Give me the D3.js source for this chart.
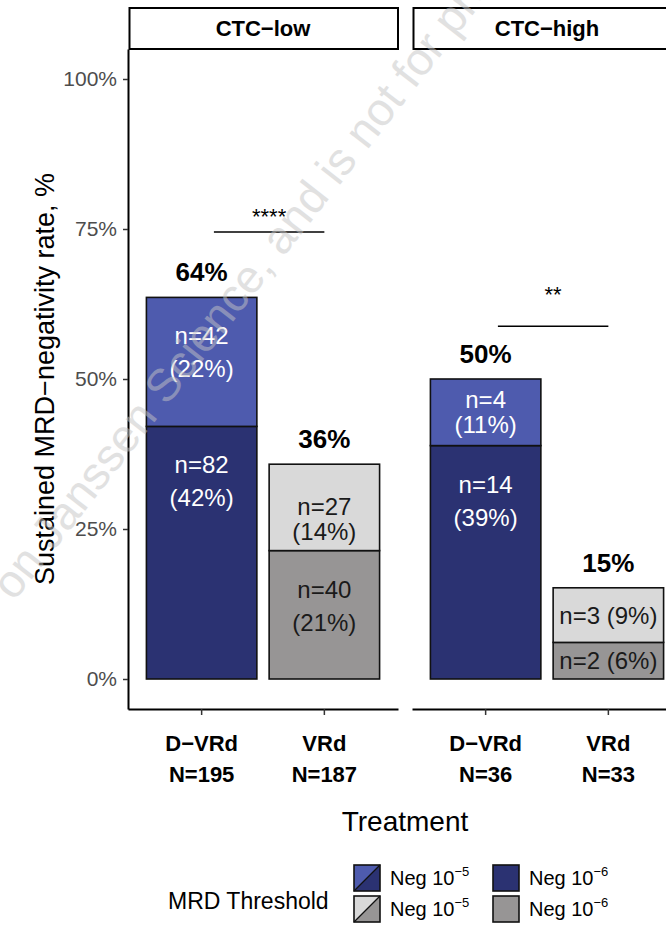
<!DOCTYPE html>
<html lang="en">
<head>
<meta charset="UTF-8">
<title>Sustained MRD-negativity by CTC</title>
<style>
    body { margin: 0; padding: 0; background: #fff; }
    svg { display: block; font-family: "Liberation Sans", Arial, sans-serif; }
    .ytick text { fill: #4d4d4d; font-size: 21px; }
    .ytick line { stroke: #333; stroke-width: 1.5px; }
    .xtick line { stroke: #333; stroke-width: 1.5px; }
    .domain { stroke: #000; stroke-width: 2px; }
</style>
</head>
<body>
<svg id="chart" width="666" height="928"></svg>

<script src="https://d3js.org/d3.v7.min.js"></script>
<script>
    // facets and treatments
    var facets = ["CTC\u2212low", "CTC\u2212high"];
    var treatments = ["D\u2212VRd", "VRd"];
    var groupN = [[195, 187], [36, 33]];

    // Neg 10^-6 segment (bottom) and Neg 10^-5 segment (top), % of N
    var deepPct = [[42.1, 21.4], [38.9, 6.1]];
    var shallowPct = [[21.5, 14.4], [11.1, 9.1]];
    var deepN = [[82, 40], [14, 2]];
    var shallowN = [[42, 27], [4, 3]];
    var deepLabel = [["42%", "21%"], ["39%", "6%"]];
    var shallowLabel = [["22%", "14%"], ["11%", "9%"]];
    var totalLabel = [["64%", "36%"], ["50%", "15%"]];

    // significance brackets (line level and label level, in %)
    var sigStars = ["****", "**"];
    var sigLevel = [74.5, 58.8];
    var sigLabelLevel = [75.8, 62.8];

    var yTicks = [0, 25, 50, 75, 100];

    var colDeep = ["#2b3272", "#979595"];
    var colShallow = ["#4e5bae", "#d9d9d9"];
    var txtCol = ["#fff", "#1a1a1a"];

    var svg = d3.select("#chart");

    var panelW = 270, panelTop = 49, panelBottom = 709;
    var panelX = [128, 412];

    var y = d3.scaleLinear().domain([-5, 105]).range([panelBottom, panelTop]);

    // y axis (left panel only)
    svg.append("g")
        .attr("class", "ytick")
        .attr("transform", "translate(" + panelX[0] + ",0)")
        .call(d3.axisLeft(y).tickValues(yTicks).tickSize(5).tickSizeOuter(0).tickPadding(6)
            .tickFormat(function (d) { return d + "%"; }));

    facets.forEach(function (facet, f) {
        var x0 = panelX[f];
        var x = d3.scaleBand().domain(treatments)
            .range([x0, x0 + panelW]).paddingInner(0.1).paddingOuter(0.15);

        // strip
        svg.append("rect")
            .attr("x", x0 + 1.5).attr("y", 8)
            .attr("width", panelW - 1.5).attr("height", panelTop - 8)
            .attr("fill", "#fff").attr("stroke", "#000").attr("stroke-width", 2);
        svg.append("text")
            .attr("x", x0 + panelW / 2).attr("y", 36)
            .attr("text-anchor", "middle")
            .attr("font-size", 22).attr("font-weight", "bold")
            .text(facet);

        // x axis
        var xa = svg.append("g")
            .attr("class", "xtick")
            .attr("transform", "translate(0," + panelBottom + ")")
            .call(d3.axisBottom(x).tickSize(6).tickSizeOuter(0).tickFormat(""));
        xa.selectAll(".tick").append("text")
            .attr("fill", "#000").attr("font-size", 22).attr("font-weight", "bold")
            .attr("text-anchor", "middle")
            .each(function (d, i) {
                var t = d3.select(this);
                t.append("tspan").attr("x", 0).attr("y", 42).text(d);
                t.append("tspan").attr("x", 0).attr("y", 73).text("N=" + groupN[f][i]);
            });

        treatments.forEach(function (tr, i) {
            var bx = x(tr), bw = x.bandwidth();
            var segs = [
                {lo: 0, hi: deepPct[f][i], fill: colDeep[i], n: deepN[f][i], p: deepLabel[f][i]},
                {lo: deepPct[f][i], hi: deepPct[f][i] + shallowPct[f][i], fill: colShallow[i], n: shallowN[f][i], p: shallowLabel[f][i]}
            ];
            segs.forEach(function (s) {
                var top = y(s.hi), bot = y(s.lo), h = bot - top;
                svg.append("rect")
                    .attr("x", bx).attr("y", top)
                    .attr("width", bw).attr("height", h)
                    .attr("fill", s.fill).attr("stroke", "#111").attr("stroke-width", 1.6);

                var cx = bx + bw / 2;
                var lbl = svg.append("text")
                    .attr("text-anchor", "middle")
                    .attr("font-size", 24)
                    .attr("fill", txtCol[i]);
                if (h < 60) {
                    lbl.attr("x", cx).attr("y", (top + bot) / 2).attr("dy", "0.35em")
                        .text("n=" + s.n + " (" + s.p + ")");
                } else {
                    var c = h < 80 ? (top + bot) / 2 : top + 55;
                    var gap = h < 100 ? 25 : 33;
                    lbl.append("tspan").attr("x", cx).attr("y", c - gap / 2).attr("dy", "0.35em").text("n=" + s.n);
                    lbl.append("tspan").attr("x", cx).attr("y", c + gap / 2).attr("dy", "0.35em").text("(" + s.p + ")");
                }
            });

            // total above bar
            svg.append("text")
                .attr("x", bx + bw / 2)
                .attr("y", y(deepPct[f][i] + shallowPct[f][i]) - 16)
                .attr("text-anchor", "middle")
                .attr("font-size", 26).attr("font-weight", "bold")
                .text(totalLabel[f][i]);
        });

        // significance bracket
        var step = x.step();
        var sx1 = x(treatments[0]) + x.bandwidth() / 2 + 0.1 * step;
        var sx2 = x(treatments[1]) + x.bandwidth() / 2;
        svg.append("line")
            .attr("x1", sx1).attr("x2", sx2)
            .attr("y1", y(sigLevel[f])).attr("y2", y(sigLevel[f]))
            .attr("stroke", "#000").attr("stroke-width", 1.5);
        svg.append("text")
            .attr("x", (sx1 + sx2) / 2).attr("y", y(sigLabelLevel[f]))
            .attr("text-anchor", "middle").attr("font-size", 22)
            .text(sigStars[f]);
    });

    // axis titles
    svg.append("text")
        .attr("transform", "translate(54," + ((panelTop + panelBottom) / 2) + ") rotate(-90)")
        .attr("text-anchor", "middle").attr("font-size", 27)
        .text("Sustained MRD\u2212negativity rate, %");
    svg.append("text")
        .attr("x", (panelX[0] + panelX[1] + panelW) / 2).attr("y", 831)
        .attr("text-anchor", "middle").attr("font-size", 28)
        .text("Treatment");

    // legend
    svg.append("text")
        .attr("x", 168).attr("y", 909).attr("font-size", 23)
        .text("MRD Threshold");

    var legendRows = [0, 1];
    var keyS = 26, keyX = [354, 493], rowY = [865, 896];
    legendRows.forEach(function (r) {
        // split key (Neg 10^-5)
        var kx = keyX[0], ky = rowY[r];
        svg.append("path")
            .attr("d", "M" + kx + "," + ky + "h" + keyS + "L" + kx + "," + (ky + keyS) + "Z")
            .attr("fill", colShallow[r]);
        svg.append("path")
            .attr("d", "M" + (kx + keyS) + "," + ky + "V" + (ky + keyS) + "H" + kx + "Z")
            .attr("fill", colDeep[r]);
        svg.append("line")
            .attr("x1", kx).attr("y1", ky + keyS).attr("x2", kx + keyS).attr("y2", ky)
            .attr("stroke", "#111").attr("stroke-width", 1.2);
        svg.append("rect")
            .attr("x", kx).attr("y", ky).attr("width", keyS).attr("height", keyS)
            .attr("fill", "none").attr("stroke", "#111").attr("stroke-width", 1.6);
        // solid key (Neg 10^-6)
        svg.append("rect")
            .attr("x", keyX[1]).attr("y", ky).attr("width", keyS).attr("height", keyS)
            .attr("fill", colDeep[r]).attr("stroke", "#111").attr("stroke-width", 1.6);

        ["\u22125", "\u22126"].forEach(function (ex, k) {
            var t = svg.append("text")
                .attr("x", keyX[k] + keyS + 10).attr("y", ky + 20)
                .attr("font-size", 20);
            t.append("tspan").text("Neg 10");
            t.append("tspan").attr("font-size", 13).attr("dy", -9).text(ex);
        });
    });

    // watermark
    svg.append("text")
        .attr("transform", "translate(14,602) rotate(-52)")
        .attr("font-size", 46).attr("fill", "#c4c4c4").attr("opacity", 0.5)
        .text("on Janssen Science, and is not for pro");
</script>
</body>
</html>
